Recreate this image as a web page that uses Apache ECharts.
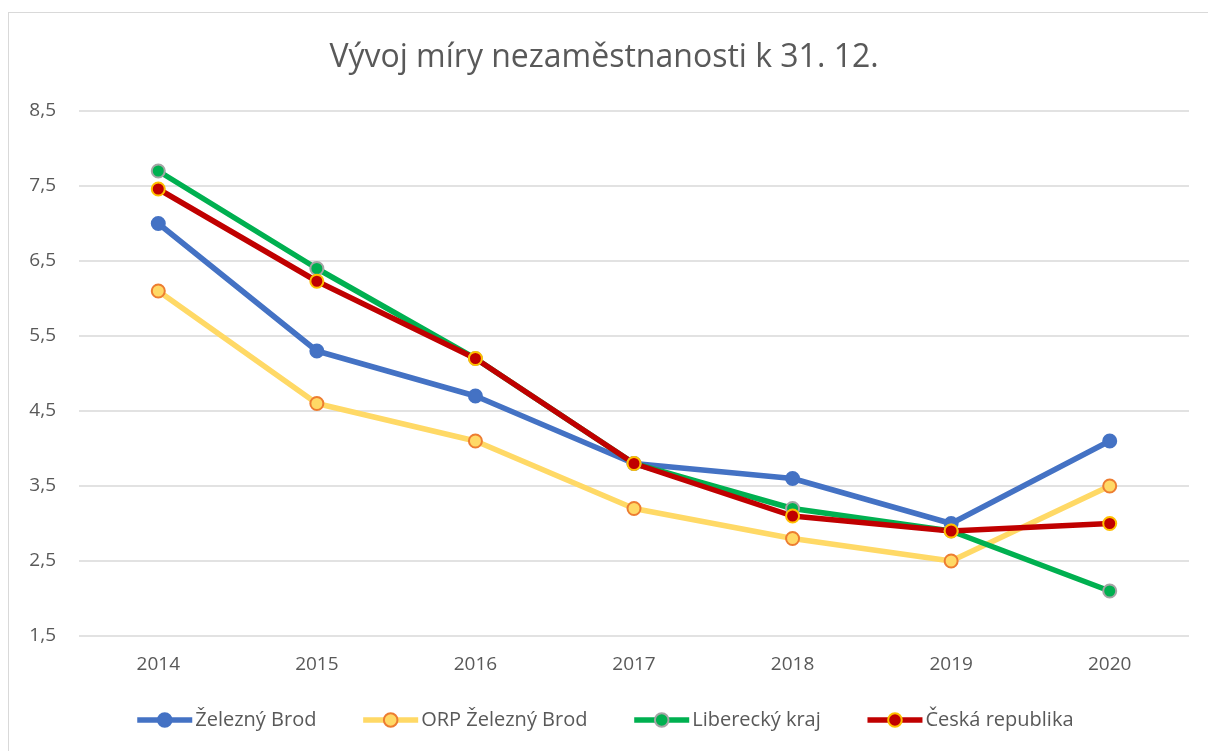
<!DOCTYPE html>
<html>
<head>
<meta charset="utf-8">
<script src="https://cdn.jsdelivr.net/npm/echarts@6/dist/echarts.min.js"></script>
<style>
	html, body { margin: 0; padding: 0; overflow: hidden; background: #fff; }
	#frame { position: absolute; left: 8px; top: 12px; width: 1240px; height: 780px; border: 1px solid #d9d9d9; }
	#chart { position: absolute; left: 0; top: 0; width: 1208px; height: 751px; }
</style>
</head>
<body>
<div id="frame"></div>
<div id="chart"></div>
<script>
	// roky
	var years = ['2014', '2015', '2016', '2017', '2018', '2019', '2020'];
	/*míra nezaměstnanosti v %*/
	var zeleznyBrod = [7.0, 5.3, 4.7, 3.8, 3.6, 3.0, 4.1];
	var orpZeleznyBrod = [6.1, 4.6, 4.1, 3.2, 2.8, 2.5, 3.5];
	var libereckyKraj = [7.7, 6.4, 5.2, 3.8, 3.2, 2.9, 2.1];
	var ceskaRepublika = [7.46, 6.23, 5.2, 3.8, 3.1, 2.9, 3.0];
	var yTicks = [1.5, 2.5, 3.5, 4.5, 5.5, 6.5, 7.5, 8.5];

	var font = '"Open Sans", "Noto Sans", sans-serif';

	function makeSeries(name, data, color, fill, border) {
		return {
			name: name,
			type: 'line',
			data: data,
			symbol: 'circle',
			symbolSize: 13,
			lineStyle: { color: color, width: 5.5 },
			itemStyle: { color: fill, borderColor: border, borderWidth: 2 },
			color: color
		}
	}

	var chart = echarts.init(document.getElementById('chart'), null, { renderer: 'canvas' });
	chart.setOption({
		animation: false,
		textStyle: { fontFamily: font },
		title: {
			text: 'Vývoj míry nezaměstnanosti k 31. 12.',
			left: 'center',
			top: 37,
			textStyle: { fontSize: 32, fontWeight: 'normal', color: '#595959', fontFamily: font }
		},
		legend: {
			bottom: 16,
			left: 'center',
			itemWidth: 55,
			itemHeight: 17,
			itemGap: 44,
			lineStyle: { width: 5.5 },
			textStyle: { fontSize: 20, color: '#595959', fontFamily: font, padding: [0, 0, 0, -2] },
			data: ['Železný Brod', 'ORP Železný Brod', 'Liberecký kraj', 'Česká republika']
		},
		grid: {
			left: 79,
			right: 19,
			top: 111,
			bottom: 115
		},
		xAxis: {
			type: 'category',
			data: years,
			boundaryGap: true,
			axisLine: { show: false },
			axisTick: { show: false },
			axisLabel: { fontSize: 19, color: '#595959', margin: 19, fontFamily: font }
		},
		yAxis: {
			type: 'value',
			min: yTicks[0],
			max: yTicks[yTicks.length - 1],
			interval: 1,
			axisLine: { show: false },
			axisTick: { show: false },
			axisLabel: {
				fontSize: 19,
				color: '#595959',
				margin: 23,
				fontFamily: font,
				formatter: function (v) { return v.toFixed(1).replace('.', ','); }
			},
			splitLine: { lineStyle: { color: '#d9d9d9', width: 1.5 } }
		},
		series: [
			makeSeries('Železný Brod', zeleznyBrod, '#4472C4', '#4472C4', '#4472C4'),
			makeSeries('ORP Železný Brod', orpZeleznyBrod, '#FFD966', '#FFD966', '#ED7D31'),
			makeSeries('Liberecký kraj', libereckyKraj, '#00B050', '#00B050', '#A5A5A5'),
			makeSeries('Česká republika', ceskaRepublika, '#C00000', '#C00000', '#FFC000')
		]
	});
</script>
</body>
</html>
